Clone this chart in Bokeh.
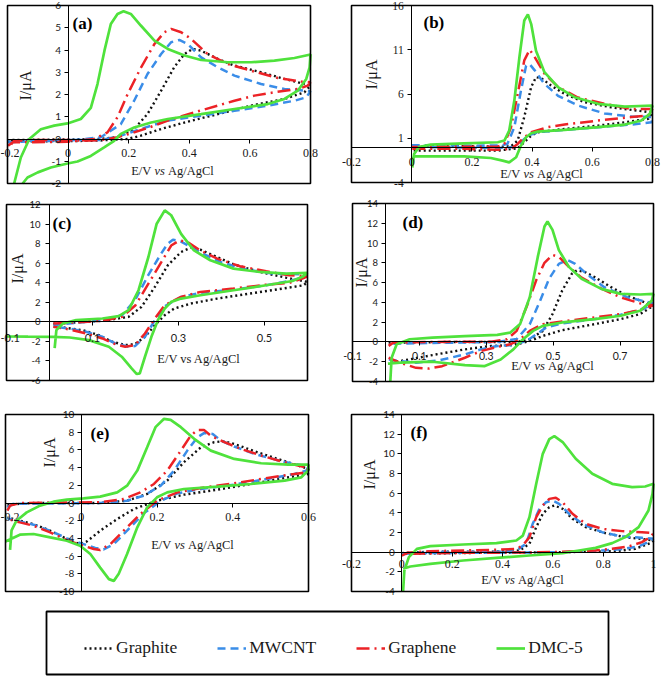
from bokeh.plotting import figure
from bokeh.models import Range1d, FixedTicker, Label, Legend, LegendItem, BoxAnnotation
from bokeh.layouts import column, row
from bokeh.embed import file_html
from bokeh.resources import INLINE

SERIES = ["Graphite", "MWCNT", "Graphene", "DMC-5"]

# ---------------- panel (a) ----------------
A_XTICKS = [-0.2, 0, 0.2, 0.4, 0.6, 0.8]
A_XLABELS = ["-0.2", "0", "0.2", "0.4", "0.6", "0.8"]
A_YTICKS = [-2, -1, 0, 1, 2, 3, 4, 5, 6]
A_YLABELS = ["-2", "-1", "0", "1", "2", "3", "4", "5", "6"]
A_GRAPHITE_E = [-0.2, -0.1, 0.0, 0.1, 0.163, 0.218, 0.262, 0.307, 0.35, 0.384, 0.411, 0.439, 0.494, 0.549, 0.637, 0.714, 0.8, 0.78, 0.714, 0.604, 0.494, 0.384, 0.307, 0.24, 0.196, 0.1, 0.0, -0.1, -0.2]
A_GRAPHITE_I = [-0.05, -0.03, -0.02, 0.0, 0.08, 0.45, 1.12, 2.17, 3.22, 3.82, 4.05, 3.97, 3.6, 3.3, 3.0, 2.7, 2.4, 2.1, 1.8, 1.5, 1.12, 0.74, 0.45, 0.15, 0.0, -0.07, -0.1, -0.1, -0.1]
A_MWCNT_E = [-0.2, -0.1, 0.0, 0.108, 0.174, 0.218, 0.262, 0.307, 0.34, 0.367, 0.395, 0.439, 0.494, 0.549, 0.637, 0.714, 0.8, 0.786, 0.747, 0.659, 0.549, 0.439, 0.329, 0.24, 0.174, 0.108, 0.0, -0.1, -0.2]
A_MWCNT_I = [-0.15, -0.1, -0.08, 0.08, 0.67, 1.72, 2.92, 3.82, 4.35, 4.45, 4.27, 3.67, 3.22, 2.85, 2.47, 2.25, 2.15, 1.87, 1.72, 1.5, 1.27, 1.05, 0.83, 0.45, 0.15, -0.05, -0.05, -0.06, -0.1]
A_GRAPHENE_E = [-0.198, -0.183, -0.112, -0.002, 0.086, 0.13, 0.163, 0.196, 0.24, 0.285, 0.318, 0.34, 0.373, 0.406, 0.46, 0.527, 0.604, 0.692, 0.769, 0.8, 0.791, 0.758, 0.681, 0.615, 0.549, 0.494, 0.417, 0.329, 0.274, 0.218, 0.163, 0.108, 0.053, -0.002, -0.112, -0.178, -0.198]
A_GRAPHENE_I = [-0.3, -0.15, -0.15, -0.12, 0.0, 0.3, 0.98, 2.0, 3.2, 4.27, 4.8, 4.95, 4.8, 4.5, 3.82, 3.37, 3.07, 2.74, 2.58, 2.55, 2.4, 2.25, 2.1, 1.95, 1.72, 1.5, 1.2, 0.83, 0.55, 0.3, 0.08, -0.05, -0.08, -0.05, -0.05, -0.08, -0.4]
A_DMC_E = [-0.178, -0.156, -0.128, -0.09, -0.046, -0.002, 0.042, 0.075, 0.097, 0.12, 0.141, 0.163, 0.183, 0.207, 0.24, 0.285, 0.329, 0.384, 0.439, 0.527, 0.604, 0.681, 0.747, 0.8, 0.797, 0.786, 0.758, 0.714, 0.659, 0.549, 0.439, 0.329, 0.274, 0.218, 0.174, 0.152, 0.119, 0.075, 0.031, -0.002, -0.057, -0.1, -0.134, -0.15]
A_DMC_I = [-2.0, -0.83, 0.0, 0.44, 0.6, 0.7, 0.9, 1.4, 2.47, 3.97, 5.17, 5.62, 5.74, 5.62, 5.1, 4.42, 4.05, 3.75, 3.55, 3.45, 3.45, 3.52, 3.64, 3.8, 3.22, 2.7, 2.17, 1.8, 1.57, 1.35, 1.12, 0.9, 0.74, 0.52, 0.23, -0.08, -0.38, -0.76, -1.01, -1.1, -1.28, -1.5, -1.73, -2.0]

# ---------------- panel (b) ----------------
B_XTICKS = [-0.2, 0, 0.2, 0.4, 0.6, 0.8]
B_XLABELS = ["-0.2", "0", "0.2", "0.4", "0.6", "0.8"]
B_YTICKS = [-4, 1, 6, 11, 16]
B_YLABELS = ["-4", "1", "6", "11", "16"]
B_GRAPHITE_E = [0.0, 0.1, 0.2, 0.3, 0.33, 0.352, 0.374, 0.397, 0.413, 0.43, 0.463, 0.508, 0.574, 0.663, 0.8, 0.786, 0.708, 0.619, 0.508, 0.419, 0.397, 0.374, 0.352, 0.286, 0.174, 0.0]
B_GRAPHITE_I = [0.1, 0.1, 0.1, 0.05, 0.1, 0.74, 3.4, 6.8, 7.9, 7.8, 6.96, 6.0, 5.08, 4.5, 3.9, 3.2, 2.8, 2.43, 2.06, 1.68, 1.3, 0.55, -0.13, -0.4, -0.4, -0.4]
B_MWCNT_E = [0.0, 0.1, 0.2, 0.3, 0.318, 0.341, 0.363, 0.38, 0.391, 0.408, 0.441, 0.486, 0.552, 0.641, 0.73, 0.8, 0.797, 0.73, 0.619, 0.508, 0.419, 0.386, 0.363, 0.341, 0.286, 0.174, 0.0]
B_MWCNT_I = [0.2, 0.2, 0.15, 0.2, 0.36, 2.25, 6.4, 9.2, 9.4, 8.7, 7.15, 5.8, 4.7, 3.8, 3.45, 3.4, 2.8, 2.55, 2.25, 1.94, 1.68, 1.3, 0.55, 0.0, -0.1, -0.05, 0.0]
B_GRAPHENE_E = [0.0, 0.1, 0.2, 0.286, 0.308, 0.33, 0.352, 0.374, 0.392, 0.408, 0.441, 0.486, 0.552, 0.641, 0.73, 0.8, 0.786, 0.73, 0.619, 0.508, 0.452, 0.397, 0.374, 0.352, 0.33, 0.286, 0.174, 0.063, 0.0]
B_GRAPHENE_I = [0.0, 0.05, 0.05, 0.05, 0.36, 2.25, 6.0, 9.8, 11.0, 10.2, 8.3, 6.8, 5.6, 4.9, 4.3, 4.3, 3.57, 3.4, 3.0, 2.55, 2.25, 1.68, 1.11, 0.36, -0.2, -0.3, -0.2, -0.2, -0.2]
B_DMC_E = [0.002, 0.008, 0.024, 0.063, 0.174, 0.286, 0.308, 0.324, 0.341, 0.358, 0.374, 0.386, 0.397, 0.413, 0.441, 0.486, 0.541, 0.619, 0.708, 0.8, 0.791, 0.763, 0.708, 0.619, 0.508, 0.419, 0.397, 0.38, 0.363, 0.347, 0.324, 0.302, 0.263, 0.174, 0.063, 0.008, 0.0]
B_DMC_I = [-2.3, -0.77, 0.0, 0.28, 0.43, 0.55, 0.74, 1.87, 5.26, 10.2, 14.3, 15.0, 13.9, 10.9, 8.47, 6.77, 5.64, 4.89, 4.58, 4.7, 3.75, 3.0, 2.55, 2.25, 1.94, 1.75, 1.57, 1.11, 0.17, -1.15, -1.72, -1.53, -1.23, -1.04, -1.04, -1.04, -1.5]

# ---------------- panel (c) ----------------
C_XTICKS = [-0.1, 0.1, 0.3, 0.5]
C_XLABELS = ["-0.1", "0.1", "0.3", "0.5"]
C_YTICKS = [-6, -4, -2, 0, 2, 4, 6, 8, 10, 12]
C_YLABELS = ["-6", "-4", "-2", "0", "2", "4", "6", "8", "10", "12"]
C_GRAPHITE_E = [0.009, 0.123, 0.184, 0.214, 0.245, 0.275, 0.306, 0.329, 0.351, 0.39, 0.428, 0.489, 0.55, 0.6, 0.591, 0.542, 0.466, 0.39, 0.329, 0.29, 0.268, 0.245, 0.222, 0.199, 0.176, 0.146, 0.115, 0.077, 0.009]
C_GRAPHITE_I = [-0.2, 0.1, 0.51, 1.53, 3.57, 5.78, 7.14, 7.59, 7.38, 6.63, 5.88, 5.1, 4.52, 4.08, 3.74, 3.4, 2.89, 2.38, 1.87, 1.36, 0.68, -0.34, -1.53, -2.28, -2.38, -2.04, -1.36, -0.85, -0.44]
C_MWCNT_E = [0.009, 0.123, 0.169, 0.2, 0.23, 0.26, 0.275, 0.287, 0.306, 0.351, 0.397, 0.458, 0.519, 0.6, 0.588, 0.557, 0.504, 0.428, 0.351, 0.306, 0.268, 0.245, 0.222, 0.199, 0.184, 0.153, 0.123, 0.085, 0.047, 0.009]
C_MWCNT_I = [-0.34, 0.17, 0.68, 2.3, 4.8, 7.0, 8.0, 8.4, 8.2, 7.1, 6.12, 5.34, 4.93, 4.86, 4.52, 4.18, 3.74, 3.3, 2.96, 2.55, 1.6, 0.17, -1.53, -2.48, -2.55, -2.21, -1.53, -1.02, -0.68, -0.51]
C_GRAPHENE_E = [0.009, 0.047, 0.123, 0.169, 0.2, 0.23, 0.26, 0.283, 0.302, 0.321, 0.351, 0.39, 0.443, 0.504, 0.557, 0.6, 0.588, 0.557, 0.504, 0.428, 0.351, 0.306, 0.268, 0.245, 0.222, 0.199, 0.176, 0.153, 0.123, 0.085, 0.047, 0.009]
C_GRAPHENE_I = [-0.17, -0.1, 0.1, 0.51, 1.7, 3.9, 6.1, 7.8, 8.33, 8.16, 7.3, 6.46, 5.68, 5.17, 4.76, 4.66, 4.42, 3.98, 3.8, 3.4, 3.06, 2.55, 1.7, 0.34, -1.19, -2.38, -2.55, -2.28, -1.7, -1.19, -0.78, -0.51]
C_DMC_E = [0.012, 0.016, 0.031, 0.062, 0.123, 0.161, 0.184, 0.207, 0.23, 0.249, 0.268, 0.283, 0.306, 0.336, 0.374, 0.428, 0.489, 0.55, 0.6, 0.588, 0.565, 0.504, 0.428, 0.351, 0.306, 0.283, 0.268, 0.252, 0.237, 0.222, 0.21, 0.203, 0.191, 0.168, 0.138, 0.092, 0.047, 0.007, -0.05, -0.1]
C_DMC_I = [-2.7, -0.85, -0.17, 0.17, 0.34, 0.58, 1.19, 3.23, 6.63, 10.0, 11.4, 10.9, 9.0, 7.3, 6.3, 5.44, 5.1, 4.93, 5.0, 4.6, 4.18, 3.74, 3.23, 2.72, 2.38, 2.04, 1.36, 0.17, -1.53, -3.57, -5.27, -5.34, -4.76, -3.57, -2.55, -1.87, -1.6, -1.53, -1.52, -1.5]

# ---------------- panel (d) ----------------
D_XTICKS = [-0.1, 0.1, 0.3, 0.5, 0.7]
D_XLABELS = ["-0.1", "0.1", "0.3", "0.5", "0.7"]
D_YTICKS = [-4, -2, 0, 2, 4, 6, 8, 10, 12, 14]
D_YLABELS = ["-4", "-2", "0", "2", "4", "6", "8", "10", "12", "14"]
D_GRAPHITE_E = [0.008, 0.2, 0.391, 0.43, 0.469, 0.498, 0.527, 0.556, 0.571, 0.595, 0.624, 0.673, 0.721, 0.8, 0.76, 0.702, 0.624, 0.527, 0.469, 0.43, 0.382, 0.314, 0.236, 0.139, 0.042, 0.008]
D_GRAPHITE_I = [-0.07, 0.0, 0.0, 0.27, 1.12, 2.82, 5.2, 6.9, 7.24, 7.07, 6.56, 5.54, 4.69, 3.67, 2.82, 2.31, 1.8, 1.19, 0.61, 0.1, -0.31, -0.41, -0.75, -1.33, -1.94, -2.1]
D_MWCNT_E = [0.022, 0.333, 0.391, 0.43, 0.459, 0.488, 0.517, 0.542, 0.566, 0.605, 0.653, 0.721, 0.8, 0.77, 0.702, 0.624, 0.527, 0.479, 0.45, 0.42, 0.382, 0.333, 0.284, 0.236, 0.158, 0.09, 0.042, 0.008]
D_MWCNT_I = [-0.17, 0.0, 0.3, 1.8, 4.0, 6.4, 7.9, 8.3, 7.9, 6.73, 5.54, 4.52, 3.9, 3.33, 2.76, 2.31, 1.87, 1.46, 0.78, 0.1, -0.31, -0.41, -0.75, -1.26, -1.87, -2.1, -1.94, -1.77]
D_GRAPHENE_E = [0.008, 0.022, 0.139, 0.314, 0.362, 0.391, 0.42, 0.45, 0.474, 0.498, 0.517, 0.547, 0.585, 0.644, 0.702, 0.76, 0.8, 0.78, 0.75, 0.702, 0.624, 0.527, 0.469, 0.43, 0.401, 0.372, 0.333, 0.284, 0.236, 0.168, 0.129, 0.09, 0.042, 0.008]
D_GRAPHENE_I = [-0.4, -0.07, 0.0, 0.03, 0.27, 1.12, 3.5, 6.3, 8.0, 8.8, 8.6, 7.6, 6.5, 5.4, 4.5, 3.9, 3.7, 3.5, 3.16, 2.82, 2.48, 2.07, 1.8, 1.12, 0.27, -0.24, -0.51, -0.92, -1.6, -2.45, -2.69, -2.62, -2.1, -1.6]
D_DMC_E = [0.013, 0.017, 0.032, 0.071, 0.139, 0.236, 0.333, 0.372, 0.401, 0.43, 0.454, 0.474, 0.483, 0.498, 0.517, 0.547, 0.585, 0.644, 0.702, 0.76, 0.8, 0.795, 0.76, 0.702, 0.624, 0.527, 0.469, 0.44, 0.41, 0.381, 0.343, 0.294, 0.236, 0.139, 0.042, 0.006]
D_DMC_I = [-4.0, -1.6, -0.24, 0.27, 0.44, 0.58, 0.71, 0.95, 1.8, 4.52, 8.6, 11.67, 12.18, 11.33, 9.29, 7.59, 6.39, 5.37, 4.86, 4.8, 4.86, 4.18, 3.16, 2.65, 2.31, 1.97, 1.63, 1.12, 0.27, -0.75, -1.77, -2.45, -2.35, -2.0, -2.1, -2.2]

# ---------------- panel (e) ----------------
E_XTICKS = [-0.2, 0, 0.2, 0.4, 0.6]
E_XLABELS = ["-0.2", "0", "0.2", "0.4", "0.6"]
E_YTICKS = [-10, -8, -6, -4, -2, 0, 2, 4, 6, 8, 10]
E_YLABELS = ["-10", "-8", "-6", "-4", "-2", "0", "2", "4", "6", "8", "10"]
E_GRAPHITE_E = [-0.195, -0.126, 0.05, 0.121, 0.174, 0.227, 0.271, 0.316, 0.351, 0.373, 0.404, 0.457, 0.519, 0.6, 0.599, 0.537, 0.448, 0.36, 0.271, 0.2, 0.139, 0.095, 0.05, 0.015, -0.003, -0.025, -0.082, -0.126, -0.195]
E_GRAPHITE_I = [-0.19, 0.0, 0.0, 0.26, 1.02, 2.53, 4.6, 6.3, 6.87, 6.98, 6.68, 5.85, 4.98, 3.85, 3.28, 2.83, 2.15, 1.51, 0.94, 0.26, -0.68, -1.81, -3.13, -4.34, -4.64, -4.34, -3.13, -2.38, -1.62]
E_MWCNT_E = [-0.195, -0.18, 0.05, 0.121, 0.165, 0.21, 0.245, 0.28, 0.307, 0.324, 0.347, 0.369, 0.404, 0.457, 0.528, 0.6, 0.594, 0.563, 0.492, 0.404, 0.316, 0.254, 0.21, 0.165, 0.121, 0.086, 0.059, 0.037, 0.006, -0.038, -0.082, -0.126, -0.162, -0.195]
E_MWCNT_I = [-0.5, -0.1, 0.0, 0.26, 0.83, 1.96, 3.66, 5.92, 7.43, 7.9, 7.8, 7.06, 6.38, 5.55, 4.72, 4.11, 3.66, 3.28, 2.72, 2.08, 1.58, 1.09, 0.26, -1.17, -3.13, -4.64, -5.25, -5.09, -4.64, -4.0, -3.13, -2.45, -2.08, -1.74]
E_GRAPHENE_E = [-0.195, -0.188, -0.162, 0.05, 0.112, 0.156, 0.192, 0.227, 0.263, 0.289, 0.307, 0.324, 0.342, 0.378, 0.422, 0.475, 0.537, 0.6, 0.594, 0.563, 0.492, 0.404, 0.316, 0.254, 0.2, 0.156, 0.112, 0.077, 0.05, 0.033, 0.006, -0.038, -0.082, -0.126, -0.162, -0.195]
E_GRAPHENE_I = [-0.87, -0.3, 0.0, 0.08, 0.45, 1.2, 2.15, 3.66, 5.92, 7.6, 8.26, 8.26, 7.6, 6.87, 6.1, 5.36, 4.6, 3.96, 3.47, 3.28, 2.83, 2.23, 1.7, 1.2, 0.26, -1.25, -3.13, -4.64, -5.32, -5.2, -4.83, -4.19, -3.32, -2.57, -2.19, -1.81]
E_DMC_E = [-0.188, -0.184, -0.171, -0.144, -0.109, -0.073, -0.038, 0.006, 0.05, 0.095, 0.121, 0.148, 0.174, 0.196, 0.218, 0.236, 0.263, 0.298, 0.342, 0.404, 0.475, 0.546, 0.6, 0.599, 0.581, 0.537, 0.448, 0.36, 0.271, 0.227, 0.2, 0.174, 0.148, 0.121, 0.099, 0.086, 0.073, 0.05, 0.024, -0.003, -0.038, -0.082, -0.126, -0.162, -0.2]
E_DMC_I = [-5.3, -3.1, -2.0, -1.06, -0.3, 0.15, 0.38, 0.53, 0.72, 1.2, 1.96, 3.66, 6.3, 8.57, 9.5, 9.4, 8.57, 7.25, 5.92, 4.98, 4.49, 4.34, 4.34, 3.66, 2.9, 2.53, 2.15, 1.85, 1.58, 1.2, 0.64, -0.49, -2.75, -5.77, -8.0, -8.8, -8.6, -7.3, -5.77, -4.83, -4.26, -3.89, -3.5, -3.58, -4.34]

# ---------------- panel (f) ----------------
F_XTICKS = [-0.2, 0, 0.2, 0.4, 0.6, 0.8, 1.0]
F_XLABELS = ["-0.2", "0", "0.2", "0.4", "0.6", "0.8", "1"]
F_YTICKS = [-4, -2, 0, 2, 4, 6, 8, 10, 12, 14]
F_YLABELS = ["-4", "-2", "0", "2", "4", "6", "8", "10", "12", "14"]
F_GRAPHITE_E = [0.0, 0.113, 0.376, 0.468, 0.507, 0.534, 0.56, 0.586, 0.606, 0.639, 0.678, 0.731, 0.809, 0.888, 1.0, 0.987, 0.928, 0.849, 0.639, 0.376, 0.008]
F_GRAPHITE_I = [-0.1, 0.05, 0.05, 0.17, 0.85, 2.54, 3.9, 4.58, 4.75, 4.41, 3.39, 2.54, 1.93, 1.53, 1.19, 0.92, 0.34, 0.1, 0.0, -0.05, -0.15]
F_MWCNT_E = [0.0, 0.113, 0.376, 0.455, 0.494, 0.52, 0.547, 0.573, 0.599, 0.625, 0.665, 0.717, 0.796, 0.875, 0.954, 1.0, 0.987, 0.941, 0.875, 0.796, 0.639, 0.376, 0.008]
F_MWCNT_I = [-0.2, 0.0, 0.05, 0.17, 0.85, 2.88, 4.41, 5.08, 5.25, 4.92, 3.9, 2.88, 2.03, 1.59, 1.46, 1.36, 1.12, 0.58, 0.31, 0.17, 0.0, -0.05, -0.1]
F_GRAPHENE_E = [0.0, 0.021, 0.113, 0.244, 0.376, 0.455, 0.481, 0.507, 0.534, 0.56, 0.586, 0.612, 0.639, 0.678, 0.731, 0.796, 0.875, 0.954, 1.0, 0.987, 0.954, 0.901, 0.836, 0.77, 0.639, 0.507, 0.244, 0.008]
F_GRAPHENE_I = [-0.34, -0.07, 0.1, 0.17, 0.24, 0.34, 0.68, 1.53, 3.56, 4.75, 5.42, 5.53, 5.08, 3.9, 2.88, 2.37, 2.14, 2.03, 1.93, 1.53, 1.02, 0.58, 0.34, 0.17, 0.04, -0.03, -0.07, -0.17]
F_DMC_E = [0.005, 0.01, 0.028, 0.06, 0.113, 0.244, 0.376, 0.455, 0.481, 0.507, 0.534, 0.56, 0.586, 0.606, 0.639, 0.691, 0.757, 0.836, 0.915, 0.967, 1.0, 0.996, 0.98, 0.941, 0.888, 0.836, 0.77, 0.704, 0.639, 0.507, 0.376, 0.244, 0.113, 0.034, 0.005]
F_DMC_I = [-4.0, -1.86, -0.5, 0.34, 0.61, 0.78, 0.92, 1.19, 1.69, 3.56, 6.95, 10.0, 11.5, 11.8, 11.2, 9.5, 7.97, 6.95, 6.61, 6.68, 6.95, 5.93, 4.24, 2.54, 1.53, 0.92, 0.44, 0.17, -0.1, -0.34, -0.58, -0.85, -1.19, -1.46, -1.69]

STYLES = {
    "Graphite": dict(line_color="#111111", line_width=2.4, line_dash="2 3"),
    "MWCNT": dict(line_color="#3A8DE8", line_width=2.5, line_dash="8 5"),
    "Graphene": dict(line_color="#EC2226", line_width=2.5, line_dash="13 5 2 5"),
    "DMC-5": dict(line_color="#4FE23C", line_width=2.7, line_dash="solid"),
}

SERIF = "Liberation Serif"
SANS = "Lato"
TXT = "#1a1a1a"

# figure canvases on the page: (left, width) per column and (top, height) per row
COLS = [(0, 330), (330, 331)]
ROWS = [(0, 193), (193, 207), (400, 203)]


def make_panel(curves, xr, yr, xt, xl, yt, yl, col, rw, box,
               letter, letter_pos, ytitle_pos, xtitle_pos, italic_vs,
               xfont, xsize, yfont, ysize, xstand, ystand):
    cx0, cw = COLS[col]
    cy0, ch = ROWS[rw]
    bx0, by0, bx1, by1 = box            # plot-area box on the page (pixels)
    ux = (xr[1] - xr[0]) / (bx1 - bx0)  # data units per pixel
    uy = (yr[1] - yr[0]) / (by1 - by0)
    xrange = Range1d(xr[0] - (bx0 - cx0) * ux, xr[1] + (cx0 + cw - bx1) * ux)
    yrange = Range1d(yr[0] - (cy0 + ch - by1) * uy, yr[1] + (by0 - cy0) * uy)

    def page_to_data(px, py):
        return xr[0] + (px - bx0) * ux, yr[1] - (py - by0) * uy

    p = figure(width=cw, height=ch, x_range=xrange, y_range=yrange,
               output_backend="svg", toolbar_location=None,
               min_border_left=0, min_border_right=0, min_border_top=0, min_border_bottom=0)
    p.grid.visible = False
    p.outline_line_color = None
    p.background_fill_color = "white"
    p.border_fill_color = "white"
    for name, (E, I) in zip(SERIES, curves):
        p.line(E, I, **STYLES[name])
    p.add_layout(BoxAnnotation(left=xr[0], right=xr[1], bottom=yr[0], top=yr[1],
                               fill_color=None, fill_alpha=0, line_color="black",
                               line_width=1.6, line_alpha=1.0))
    for ax, ticks, labels, font, fsize, stand, bnd in (
            (p.xaxis, xt, xl, xfont, xsize, xstand, xr),
            (p.yaxis, yt, yl, yfont, ysize, ystand, yr)):
        ax.fixed_location = 0
        ax.bounds = bnd
        ax.ticker = FixedTicker(ticks=ticks)
        ax.major_label_overrides = {t: s for t, s in zip(ticks, labels)}
        ax.major_label_text_font = font
        ax.major_label_text_font_size = fsize
        ax.major_label_text_color = TXT
        ax.major_label_standoff = stand
        ax.axis_line_color = "black"
        ax.axis_line_width = 1
        ax.major_tick_line_color = "black"
        ax.major_tick_in = 0
        ax.major_tick_out = 4
        ax.minor_tick_line_color = None
    lx, ly = page_to_data(*letter_pos)
    p.add_layout(Label(x=lx, y=ly, text=letter, text_font=SERIF, text_font_style="bold",
                       text_font_size="17px", text_align="left", text_baseline="middle",
                       text_color="black"))
    tx, ty = page_to_data(*ytitle_pos)
    p.add_layout(Label(x=tx, y=ty, text="I/\u03bcA", text_font=SERIF, text_font_size="16px",
                       angle=90, angle_units="deg", text_align="center",
                       text_baseline="middle", text_color=TXT))
    cx, cy = page_to_data(*xtitle_pos)
    fs = 12.5
    if italic_vs:
        p.add_layout(Label(x=cx, y=cy, x_offset=-1.694 * fs, text="E/V", text_font=SERIF,
                           text_font_size=f"{fs}px", text_align="right", text_baseline="middle",
                           text_color=TXT))
        p.add_layout(Label(x=cx, y=cy, x_offset=-1.028 * fs, text="vs", text_font=SERIF,
                           text_font_style="italic", text_font_size=f"{fs}px",
                           text_align="center", text_baseline="middle", text_color=TXT))
        p.add_layout(Label(x=cx, y=cy, x_offset=-0.361 * fs, text="Ag/AgCl", text_font=SERIF,
                           text_font_size=f"{fs}px", text_align="left", text_baseline="middle",
                           text_color=TXT))
    else:
        p.add_layout(Label(x=cx, y=cy, text="E/V  vs Ag/AgCl", text_font=SERIF,
                           text_font_size=f"{fs}px", text_align="center", text_baseline="middle",
                           text_color=TXT))
    return p


pa = make_panel([(A_GRAPHITE_E, A_GRAPHITE_I), (A_MWCNT_E, A_MWCNT_I), (A_GRAPHENE_E, A_GRAPHENE_I), (A_DMC_E, A_DMC_I)],
                (-0.2, 0.8), (-2, 6), A_XTICKS, A_XLABELS, A_YTICKS, A_YLABELS, 0, 0, (7, 5, 310, 183),
                "(a)", (72, 23), (25, 85), (172, 170), True, SERIF, "12px", SANS, "10px", 6, 3)
pb = make_panel([(B_GRAPHITE_E, B_GRAPHITE_I), (B_MWCNT_E, B_MWCNT_I), (B_GRAPHENE_E, B_GRAPHENE_I), (B_DMC_E, B_DMC_I)],
                (-0.2, 0.8), (-4, 16), B_XTICKS, B_XLABELS, B_YTICKS, B_YLABELS, 1, 0, (351, 5, 652, 182),
                "(b)", (423, 22), (371, 74), (541, 173), True, SERIF, "12px", SERIF, "11.5px", 7, 4)
pc = make_panel([(C_GRAPHITE_E, C_GRAPHITE_I), (C_MWCNT_E, C_MWCNT_I), (C_GRAPHENE_E, C_GRAPHENE_I), (C_DMC_E, C_DMC_I)],
                (-0.1, 0.6), (-6, 12), C_XTICKS, C_XLABELS, C_YTICKS, C_YLABELS, 0, 1, (6, 204, 307, 380),
                "(c)", (52, 223), (17, 268), (200, 358), False, SANS, "11px", SANS, "9.5px", 8, 5)
pd_ = make_panel([(D_GRAPHITE_E, D_GRAPHITE_I), (D_MWCNT_E, D_MWCNT_I), (D_GRAPHENE_E, D_GRAPHENE_I), (D_DMC_E, D_DMC_I)],
                 (-0.1, 0.8), (-4, 14), D_XTICKS, D_XLABELS, D_YTICKS, D_YLABELS, 1, 1, (352, 203, 653, 381),
                 "(d)", (402, 222), (361, 272), (552, 365), True, SANS, "10.5px", SANS, "9.5px", 6, 4)
pe = make_panel([(E_GRAPHITE_E, E_GRAPHITE_I), (E_MWCNT_E, E_MWCNT_I), (E_GRAPHENE_E, E_GRAPHENE_I), (E_DMC_E, E_DMC_I)],
                (-0.2, 0.6), (-10, 10), E_XTICKS, E_XLABELS, E_YTICKS, E_YLABELS, 0, 2, (5, 414, 308, 591),
                "(e)", (90, 433), (49, 452), (192, 544), True, SERIF, "12px", SANS, "10px", 6, 3)
pf = make_panel([(F_GRAPHITE_E, F_GRAPHITE_I), (F_MWCNT_E, F_MWCNT_I), (F_GRAPHENE_E, F_GRAPHENE_I), (F_DMC_E, F_DMC_I)],
                (-0.2, 1.0), (-4, 14), F_XTICKS, F_XLABELS, F_YTICKS, F_YLABELS, 1, 2, (351, 414, 653, 591),
                "(f)", (410, 432), (369, 474), (522, 579), True, SERIF, "12px", SANS, "10px", 4, 3)

# legend panel
pl = figure(width=610, height=74, x_range=Range1d(0, 1), y_range=Range1d(0, 1),
            x_axis_type=None, y_axis_type=None, output_backend="svg", toolbar_location=None,
            min_border_left=46, min_border_right=2, min_border_top=8, min_border_bottom=3)
pl.grid.visible = False
pl.outline_line_color = "black"
pl.outline_line_width = 1.8
items = []
for name in SERIES:
    # off-range placeholder renderer that only supplies the legend swatch style
    r = pl.line(x=[5, 6], y=[5, 6], **STYLES[name])
    items.append(LegendItem(label=name, renderers=[r]))
leg = Legend(items=items, orientation="horizontal", location=(38, 16), spacing=40,
             glyph_width=29, label_standoff=3, label_text_font=SERIF,
             label_text_font_size="17.5px", label_text_color=TXT,
             border_line_color=None, background_fill_alpha=0, padding=0, margin=0)
pl.add_layout(leg)

layout = column(row(pa, pb), row(pc, pd_), row(pe, pf), pl)
open("out.html", "w").write(file_html(layout, INLINE))
